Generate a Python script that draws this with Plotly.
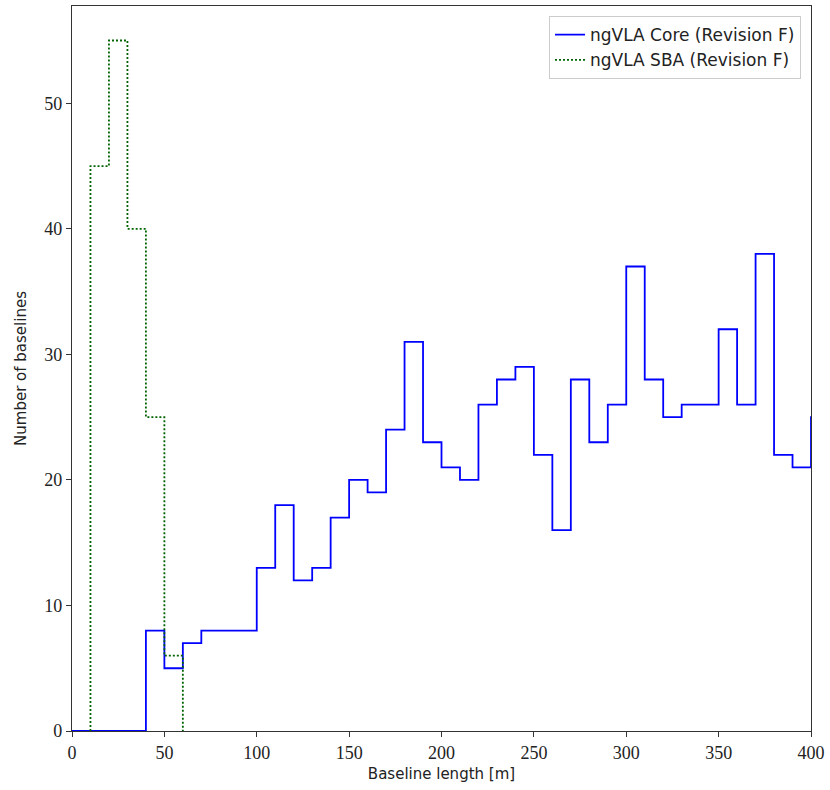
import plotly.graph_objects as go

# Bin edges (10 m bins) and counts
core_edges = list(range(0, 420, 10))  # 0..410
core_counts = [0, 0, 0, 0, 8, 5, 7, 8, 8, 8,
               13, 18, 12, 13, 17, 20, 19, 24, 31, 23,
               21, 20, 26, 28, 29, 22, 16, 28, 23, 26,
               37, 28, 25, 26, 26, 32, 26, 38, 22, 21,
               25]
sba_edges = [10, 20, 30, 40, 50, 60]
sba_counts = [45, 55, 40, 25, 6]

x_ticks = [0, 50, 100, 150, 200, 250, 300, 350, 400]
y_ticks = [0, 10, 20, 30, 40, 50]


def step_xy(edges, counts):
    xs = [edges[0]] + edges[:-1] + [edges[-1]]
    ys = [0] + counts + [0]
    return xs, ys


cx, cy = step_xy(core_edges, core_counts)
sx, sy = step_xy(sba_edges, sba_counts)

fig = go.Figure()
fig.add_trace(go.Scatter(x=cx, y=cy, mode="lines", line_shape="hv",
                         line=dict(color="#0000ff", width=1.8),
                         name="ngVLA Core (Revision F)"))
fig.add_trace(go.Scatter(x=sx, y=sy, mode="lines", line_shape="hv",
                         line=dict(color="#006400", width=1.8, dash="2px,2px"),
                         name="ngVLA SBA (Revision F)"))

serif = "Liberation Serif"
sans = "DejaVu Sans"

axis_common = dict(showline=True, mirror=True, linecolor="#333333", linewidth=1.2,
                   ticks="outside", ticklen=5, tickcolor="#333333", tickwidth=1.2,
                   showgrid=False, zeroline=False,
                   tickfont=dict(family=serif, size=18, color="#222222"))

fig.update_layout(
    width=830, height=790,
    margin=dict(l=72, r=17, t=5, b=59),
    paper_bgcolor="white", plot_bgcolor="white",
    showlegend=True,
    legend=dict(x=0.9865, y=0.986, xanchor="right", yanchor="top",
                bordercolor="#cccccc", borderwidth=1, bgcolor="rgba(255,255,255,0.8)",
                font=dict(family=sans, size=17, color="#222222"),
                tracegroupgap=2),
    xaxis=dict(range=[0, 400], tickvals=x_ticks,
               title=dict(text="Baseline length [m]", standoff=6,
                          font=dict(family=sans, size=15, color="#222222")),
               **axis_common),
    yaxis=dict(range=[0, 57.75], tickvals=y_ticks,
               title=dict(text="Number of baselines", standoff=14,
                          font=dict(family=sans, size=15, color="#222222")),
               **axis_common),
)

fig.write_html("out.html")
